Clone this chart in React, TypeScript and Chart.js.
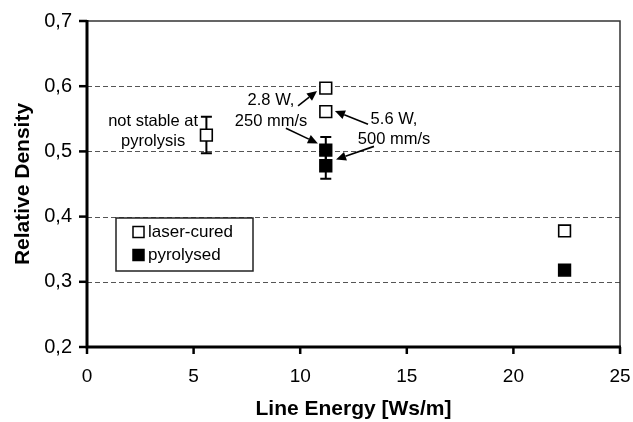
import React, { useEffect, useRef } from "react";
import { Chart, registerables } from "chart.js";

Chart.register(...registerables);

// ---------- data ----------
const xTickValues = [0, 5, 10, 15, 20, 25];
const yTickValues = [0.2, 0.3, 0.4, 0.5, 0.6, 0.7];

const laserCuredX = [5.6, 11.2, 11.2, 22.4];
const laserCuredY = [0.525, 0.597, 0.561, 0.378];
const laserCuredErrLow = [0.497, null, null, null];
const laserCuredErrHigh = [0.553, null, null, null];

const pyrolysedX = [11.2, 11.2, 22.4];
const pyrolysedY = [0.502, 0.478, 0.318];
const pyrolysedErrLow = [0.482, 0.458, null];
const pyrolysedErrHigh = [0.522, 0.498, null];

const seriesLabels = ["laser-cured", "pyrolysed"];
const xAxisTitle = "Line Energy [Ws/m]";
const yAxisTitle = "Relative Density";

// annotation texts (anchored in data coordinates)
const noteTexts = [
  ["not stable at", "pyrolysis"],
  ["2.8 W,", "250 mm/s"],
  ["5.6 W,", "500 mm/s"],
];
const noteX = [3.1, 8.63, 14.4];
const noteY = [
  [0.5466, 0.5158],
  [0.5774, 0.546],
  [0.549, 0.5185],
];
// arrows: [x1, y1, x2, y2] tail -> head, data coordinates
const arrowsData = [
  [9.9, 0.5697, 10.79, 0.5928],
  [9.33, 0.5354, 10.83, 0.5123],
  [13.18, 0.5415, 11.63, 0.562],
  [13.46, 0.5077, 11.68, 0.4877],
];

const FONT = '"Liberation Sans", Arial, Helvetica, sans-serif';

const errLowBySeries = [laserCuredErrLow, pyrolysedErrLow];
const errHighBySeries = [laserCuredErrHigh, pyrolysedErrHigh];

function drawArrow(ctx: CanvasRenderingContext2D, x1: number, y1: number, x2: number, y2: number) {
  const ang = Math.atan2(y2 - y1, x2 - x1);
  const head = 10;
  const half = 4.5;
  const bx = x2 - head * Math.cos(ang);
  const by = y2 - head * Math.sin(ang);
  ctx.beginPath();
  ctx.moveTo(x1, y1);
  ctx.lineTo(bx, by);
  ctx.lineWidth = 1.6;
  ctx.stroke();
  ctx.beginPath();
  ctx.moveTo(x2, y2);
  ctx.lineTo(bx + half * Math.sin(ang), by - half * Math.cos(ang));
  ctx.lineTo(bx - half * Math.sin(ang), by + half * Math.cos(ang));
  ctx.closePath();
  ctx.fill();
}

const framePlugin = {
  id: "frame",
  beforeDatasetsDraw(chart: any) {
    const { ctx, chartArea: a, scales } = chart;
    const xs = scales.x;
    const ys = scales.y;
    ctx.save();
    // dashed grid lines
    ctx.strokeStyle = "#555";
    ctx.lineWidth = 1;
    ctx.setLineDash([5, 3]);
    yTickValues.forEach((v) => {
      if (v <= ys.min + 1e-9 || v >= ys.max - 1e-9) return;
      const y = Math.round(ys.getPixelForValue(v)) + 0.5;
      ctx.beginPath();
      ctx.moveTo(a.left, y);
      ctx.lineTo(a.right, y);
      ctx.stroke();
    });
    ctx.setLineDash([]);
    // top and right border
    ctx.strokeStyle = "#333";
    ctx.lineWidth = 1.5;
    ctx.beginPath();
    ctx.moveTo(a.left, a.top);
    ctx.lineTo(a.right, a.top);
    ctx.lineTo(a.right, a.bottom);
    ctx.stroke();
    // error bars
    ctx.strokeStyle = "#000";
    ctx.lineWidth = 2;
    chart.data.datasets.forEach((ds: any, di: number) => {
      const lows = errLowBySeries[di];
      const highs = errHighBySeries[di];
      ds.data.forEach((p: any, i: number) => {
        const lo = lows[i];
        const hi = highs[i];
        if (lo == null || hi == null) return;
        const x = xs.getPixelForValue(p.x);
        const yl = ys.getPixelForValue(lo);
        const yh = ys.getPixelForValue(hi);
        ctx.beginPath();
        ctx.moveTo(x, yl);
        ctx.lineTo(x, yh);
        ctx.moveTo(x - 5.5, yl);
        ctx.lineTo(x + 5.5, yl);
        ctx.moveTo(x - 5.5, yh);
        ctx.lineTo(x + 5.5, yh);
        ctx.stroke();
      });
    });
    ctx.restore();
  },
  afterDatasetsDraw(chart: any) {
    const { ctx, chartArea: a, scales } = chart;
    const xs = scales.x;
    const ys = scales.y;
    ctx.save();
    // main axes
    ctx.strokeStyle = "#000";
    ctx.lineWidth = 3;
    ctx.beginPath();
    ctx.moveTo(a.left, a.top - 1);
    ctx.lineTo(a.left, a.bottom);
    ctx.lineTo(a.right + 1, a.bottom);
    ctx.stroke();
    // tick marks
    ctx.lineWidth = 2.5;
    yTickValues.forEach((v) => {
      const y = ys.getPixelForValue(v);
      ctx.beginPath();
      ctx.moveTo(a.left - 8, y);
      ctx.lineTo(a.left, y);
      ctx.stroke();
    });
    xTickValues.forEach((v) => {
      const x = xs.getPixelForValue(v);
      ctx.beginPath();
      ctx.moveTo(x, a.bottom);
      ctx.lineTo(x, a.bottom + 7);
      ctx.stroke();
    });
    // y axis title
    ctx.save();
    ctx.translate(23, (a.top + a.bottom) / 2);
    ctx.rotate(-Math.PI / 2);
    ctx.fillStyle = "#000";
    ctx.font = `bold 21px ${FONT}`;
    ctx.textAlign = "center";
    ctx.textBaseline = "middle";
    ctx.fillText(yAxisTitle, 0, 0);
    ctx.restore();
    // annotations
    ctx.fillStyle = "#000";
    ctx.font = `16.5px ${FONT}`;
    ctx.textAlign = "center";
    ctx.textBaseline = "middle";
    noteTexts.forEach((lines, i) => {
      lines.forEach((t, j) => {
        ctx.fillText(t, xs.getPixelForValue(noteX[i]), ys.getPixelForValue(noteY[i][j]));
      });
    });
    ctx.strokeStyle = "#000";
    arrowsData.forEach(([x1, y1, x2, y2]) => {
      drawArrow(
        ctx,
        xs.getPixelForValue(x1),
        ys.getPixelForValue(y1),
        xs.getPixelForValue(x2),
        ys.getPixelForValue(y2)
      );
    });
    // legend box
    const lx = a.left + 29;
    const ly = a.top + 197;
    const lw = 137;
    const lh = 53;
    ctx.fillStyle = "#fff";
    ctx.fillRect(lx, ly, lw, lh);
    ctx.strokeStyle = "#222";
    ctx.lineWidth = 1.5;
    ctx.strokeRect(lx, ly, lw, lh);
    chart.data.datasets.forEach((ds: any, i: number) => {
      const cy = ly + 14 + i * 23;
      ctx.fillStyle = ds.backgroundColor;
      ctx.fillRect(lx + 17, cy - 5.5, 11, 11);
      ctx.strokeStyle = "#000";
      ctx.lineWidth = 1.5;
      ctx.strokeRect(lx + 17, cy - 5.5, 11, 11);
      ctx.fillStyle = "#000";
      ctx.font = `17px ${FONT}`;
      ctx.textAlign = "left";
      ctx.textBaseline = "middle";
      ctx.fillText(ds.label, lx + 32, cy);
    });
    ctx.restore();
  },
};

export default function App() {
  const ref = useRef<HTMLCanvasElement | null>(null);

  useEffect(() => {
    if (!ref.current) return;
    const chart = new Chart(ref.current, {
      type: "scatter",
      data: {
        datasets: [
          {
            label: seriesLabels[0],
            data: laserCuredX.map((x, i) => ({ x, y: laserCuredY[i] })),
            pointStyle: "rect",
            pointRadius: 8.3,
            backgroundColor: "#ffffff",
            borderColor: "#000000",
            borderWidth: 1.6,
          },
          {
            label: seriesLabels[1],
            data: pyrolysedX.map((x, i) => ({ x, y: pyrolysedY[i] })),
            pointStyle: "rect",
            pointRadius: 8.3,
            backgroundColor: "#000000",
            borderColor: "#000000",
            borderWidth: 1.6,
          },
        ],
      },
      options: {
        animation: false,
        responsive: false,
        events: [],
        layout: { padding: { left: 0, right: 13, top: 21, bottom: 0 } },
        plugins: {
          legend: { display: false },
          tooltip: { enabled: false },
        },
        scales: {
          x: {
            type: "linear",
            min: 0,
            max: 25,
            afterBuildTicks: (s: any) => {
              s.ticks = xTickValues.map((v) => ({ value: v }));
            },
            afterFit: (s: any) => {
              s.height = 75;
              s.paddingLeft = 0;
              s.paddingRight = 0;
            },
            grid: { display: false, drawTicks: false },
            border: { display: false },
            ticks: {
              color: "#000",
              font: { family: FONT, size: 19 },
              padding: 18,
              maxRotation: 0,
            },
            title: {
              display: true,
              text: xAxisTitle,
              color: "#000",
              font: { family: FONT, size: 21, weight: "bold" },
              padding: { top: 0, bottom: 0 },
            },
          },
          y: {
            type: "linear",
            min: 0.2,
            max: 0.7,
            afterBuildTicks: (s: any) => {
              s.ticks = yTickValues.map((v) => ({ value: v }));
            },
            afterFit: (s: any) => {
              s.width = 87;
              s.paddingTop = 0;
              s.paddingBottom = 0;
            },
            grid: { display: false, drawTicks: false },
            border: { display: false },
            ticks: {
              color: "#000",
              font: { family: FONT, size: 20 },
              padding: 15,
              callback: (v: any) => Number(v).toFixed(1).replace(".", ","),
            },
            title: { display: false },
          },
        },
      },
      plugins: [framePlugin],
    });
    return () => chart.destroy();
  }, []);

  return (
    <div style={{ position: "absolute", left: 0, top: 0, width: 633, height: 422, background: "#fff" }}>
      <canvas ref={ref} width={633} height={422} style={{ display: "block", width: 633, height: 422 }} />
    </div>
  );
}
